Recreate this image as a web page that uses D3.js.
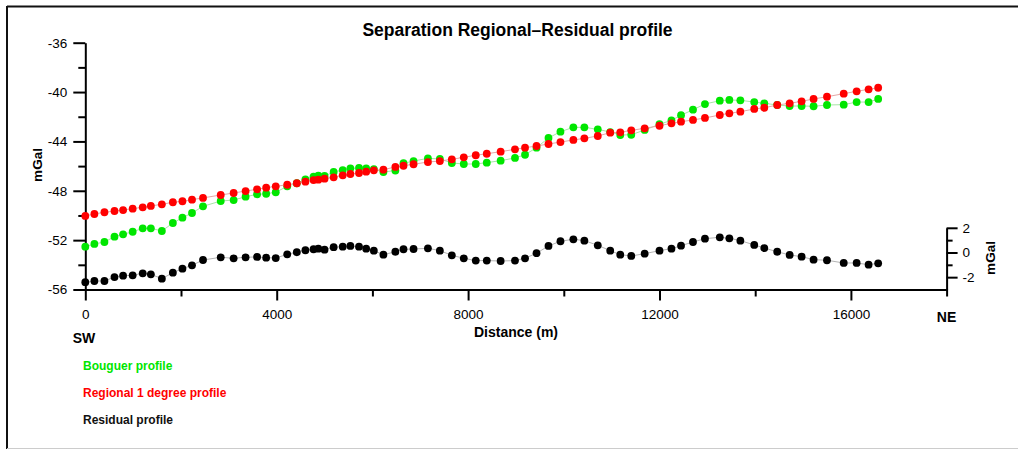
<!DOCTYPE html>
<html><head><meta charset="utf-8">
<script src="https://cdn.jsdelivr.net/npm/d3@7"></script>
<style>
html,body{margin:0;padding:0;background:#fff;}
svg{display:block;font-family:"Liberation Sans",Arial,sans-serif;}
</style></head><body>
<svg id="chart" width="1018" height="450"></svg>
<script>
const distance = [0,190,400,610,790,990,1200,1370,1600,1830,2030,2230,2460,2830,3100,3350,3590,3780,3980,4220,4420,4600,4770,4870,5000,5190,5380,5540,5720,5870,6030,6230,6480,6650,6860,7160,7410,7660,7910,8160,8390,8680,8980,9190,9430,9680,9930,10200,10430,10710,10970,11180,11410,11690,12000,12250,12450,12700,12950,13260,13460,13690,13980,14190,14460,14720,14970,15220,15500,15850,16120,16370,16570];
const bouguer = [-52.53,-52.31,-52.15,-51.72,-51.53,-51.32,-51.04,-51.04,-51.26,-50.61,-50.18,-49.80,-49.26,-48.83,-48.75,-48.48,-48.29,-48.24,-48.12,-47.64,-47.39,-47.07,-46.86,-46.78,-46.80,-46.48,-46.32,-46.18,-46.15,-46.18,-46.24,-46.48,-46.36,-45.77,-45.59,-45.37,-45.42,-45.75,-45.83,-45.83,-45.72,-45.56,-45.34,-45.08,-44.51,-43.72,-43.21,-42.86,-42.86,-43.02,-43.24,-43.48,-43.46,-43.07,-42.61,-42.29,-41.88,-41.43,-40.97,-40.70,-40.64,-40.67,-40.81,-40.91,-41.05,-41.13,-41.13,-41.15,-41.05,-41.02,-40.81,-40.81,-40.56];
const regional = [-50.04,-49.88,-49.74,-49.64,-49.56,-49.45,-49.34,-49.23,-49.10,-48.93,-48.85,-48.72,-48.58,-48.34,-48.18,-48.02,-47.88,-47.75,-47.64,-47.51,-47.39,-47.26,-47.13,-47.10,-47.02,-46.91,-46.75,-46.64,-46.56,-46.45,-46.34,-46.29,-46.07,-45.97,-45.85,-45.67,-45.59,-45.45,-45.29,-45.12,-45.00,-44.83,-44.64,-44.51,-44.37,-44.21,-44.05,-43.88,-43.75,-43.56,-43.29,-43.26,-43.10,-42.94,-42.73,-42.53,-42.40,-42.26,-42.10,-41.86,-41.72,-41.59,-41.37,-41.27,-41.05,-40.91,-40.75,-40.56,-40.38,-40.13,-39.94,-39.78,-39.65];
const residual = [-2.41,-2.31,-2.31,-1.99,-1.88,-1.85,-1.69,-1.77,-2.12,-1.64,-1.31,-1.04,-0.61,-0.39,-0.47,-0.39,-0.36,-0.42,-0.45,-0.15,0.02,0.18,0.26,0.31,0.23,0.43,0.47,0.53,0.47,0.31,0.15,-0.18,0.06,0.26,0.28,0.34,0.15,-0.23,-0.47,-0.66,-0.66,-0.69,-0.66,-0.47,-0.06,0.53,0.91,1.07,0.96,0.58,0.15,-0.18,-0.28,-0.10,0.15,0.31,0.55,0.85,1.12,1.23,1.15,0.96,0.61,0.36,0.06,-0.20,-0.34,-0.58,-0.63,-0.85,-0.85,-0.99,-0.88];
const xMajorTicks = [0,4000,8000,12000,16000];
const xMinorTicks = [2000,6000,10000,14000,18000];
const yMajorTicks = [-36,-40,-44,-48,-52,-56];
const yMinorTicks = [-38,-42,-46,-50,-54];
const rMajorTicks = [2,0,-2];
const rMinorTicks = [1,-1];
const legendLabels = ["Bouguer profile","Regional 1 degree profile","Residual profile"];
const seriesColors = ["#00e600","#ff0000","#000000"];
const lineColors = ["#a6e6a6","#e6a6a6","#b4b4b4"];

const svg = d3.select("#chart");
const x = d3.scaleLinear().domain([0,18000]).range([85.3,946.6]);
const yL = d3.scaleLinear().domain([-56,-36]).range([289.5,42.7]);
const yR = d3.scaleLinear().domain([-3,2]).range([289.5,289.5-5*12.34]);
const fmt = d => String(d);

// frame
svg.append("line").attr("x1",7).attr("x2",1018).attr("y1",6.5).attr("y2",6.5).attr("stroke","#111").attr("stroke-width",2);
svg.append("line").attr("x1",7).attr("x2",7).attr("y1",6).attr("y2",449).attr("stroke","#111").attr("stroke-width",2);
svg.append("line").attr("x1",7).attr("x2",1018).attr("y1",448.5).attr("y2",448.5).attr("stroke","#ccc").attr("stroke-width",1);

// title
svg.append("text").attr("x",517.5).attr("y",36).attr("text-anchor","middle")
  .attr("font-size",17.5).attr("font-weight","bold").text("Separation Regional\u2013Residual profile");

function styleAxis(g){
  g.attr("font-family",null).attr("font-size",13.5);
  g.select(".domain").attr("stroke","#000").attr("stroke-width",2);
  g.selectAll(".tick line").attr("stroke","#000").attr("stroke-width",2);
  g.selectAll(".tick text").attr("fill","#000");
}

// left axis
const gL = svg.append("g").attr("transform","translate(85.3,0)");
gL.call(d3.axisLeft(yL).tickValues(yMajorTicks).tickSize(12).tickPadding(6).tickSizeOuter(0).tickFormat(fmt));
styleAxis(gL);
const gLm = svg.append("g").attr("transform","translate(85.3,0)");
gLm.call(d3.axisLeft(yL).tickValues(yMinorTicks).tickSize(7).tickFormat("").tickSizeOuter(0));
gLm.select(".domain").remove();
gLm.selectAll(".tick line").attr("stroke","#000").attr("stroke-width",2);

// bottom axis
const gB = svg.append("g").attr("transform","translate(0,289.5)");
gB.call(d3.axisBottom(x).tickValues(xMajorTicks).tickSize(11).tickPadding(9).tickSizeOuter(0).tickFormat(fmt));
styleAxis(gB);
const gBm = svg.append("g").attr("transform","translate(0,289.5)");
gBm.call(d3.axisBottom(x).tickValues(xMinorTicks).tickSize(7).tickFormat("").tickSizeOuter(0));
gBm.select(".domain").remove();
gBm.selectAll(".tick line").attr("stroke","#000").attr("stroke-width",2);

// right residual axis
const gR = svg.append("g").attr("transform","translate("+x(18000)+",0)");
gR.call(d3.axisRight(yR).tickValues(rMajorTicks).tickSize(11).tickPadding(5).tickSizeOuter(0).tickFormat(fmt));
styleAxis(gR);
const gRm = svg.append("g").attr("transform","translate("+x(18000)+",0)");
gRm.call(d3.axisRight(yR).tickValues(rMinorTicks).tickSize(6).tickFormat("").tickSizeOuter(0));
gRm.select(".domain").remove();
gRm.selectAll(".tick line").attr("stroke","#000").attr("stroke-width",2);

// axis labels
svg.append("text").attr("transform","translate(42,165) rotate(-90)").attr("text-anchor","middle")
  .attr("font-size",13.5).attr("font-weight","bold").text("mGal");
svg.append("text").attr("transform","translate(995,258) rotate(-90)").attr("text-anchor","middle")
  .attr("font-size",13.5).attr("font-weight","bold").text("mGal");
svg.append("text").attr("x",516).attr("y",337).attr("text-anchor","middle")
  .attr("font-size",14).attr("font-weight","bold").text("Distance (m)");
svg.append("text").attr("x",84).attr("y",343).attr("text-anchor","middle")
  .attr("font-size",14).attr("font-weight","bold").text("SW");
svg.append("text").attr("x",946.5).attr("y",322).attr("text-anchor","middle")
  .attr("font-size",14).attr("font-weight","bold").text("NE");

// series
const series = [
  {vals:bouguer, y:yL},
  {vals:regional, y:yL},
  {vals:residual, y:yR}
];
series.forEach((s,i)=>{
  const pts = distance.map((d,j)=>[d,s.vals[j]]);
  const line = d3.line().x(p=>x(p[0])).y(p=>s.y(p[1]));
  svg.append("path").attr("d",line(pts)).attr("fill","none").attr("stroke",lineColors[i]).attr("stroke-width",1);
  svg.append("g").selectAll("circle").data(pts).join("circle")
    .attr("cx",p=>x(p[0])).attr("cy",p=>s.y(p[1])).attr("r",3.9).attr("fill",seriesColors[i]);
});

// legend
svg.append("g").selectAll("text").data(legendLabels).join("text")
  .attr("x",83).attr("y",(d,i)=>370+i*27).attr("font-size",12).attr("font-weight","bold")
  .attr("fill",(d,i)=>seriesColors[i]==="#000000"?"#111":seriesColors[i]).text(d=>d);
</script>
</body></html>
